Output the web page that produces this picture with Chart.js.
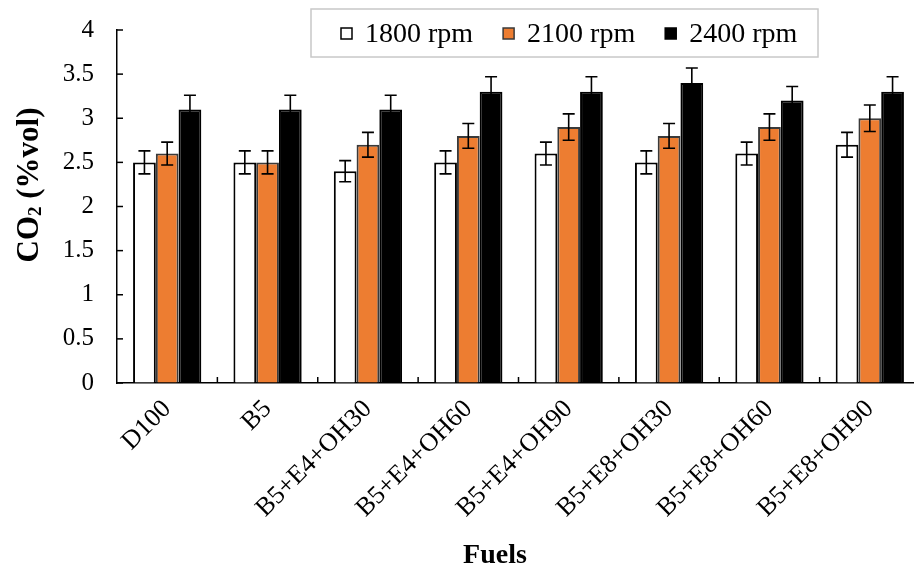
<!DOCTYPE html>
<html>
<head>
<meta charset="utf-8">
<script src="https://cdn.jsdelivr.net/npm/chart.js@4/dist/chart.umd.min.js"></script>
<style>
  html, body { margin: 0; padding: 0; background: #fff; overflow: hidden; }
  #wrap { width: 914px; height: 570px; overflow: hidden; }
</style>
</head>
<body>
<div id="wrap"><canvas id="c" width="920" height="570"></canvas></div>
<script>
const categories = ['D100', 'B5', 'B5+E4+OH30', 'B5+E4+OH60', 'B5+E4+OH90', 'B5+E8+OH30', 'B5+E8+OH60', 'B5+E8+OH90'];
const seriesLabels = ['1800 rpm', '2100 rpm', '2400 rpm'];
const rpm1800 = [2.5, 2.5, 2.4, 2.5, 2.6, 2.5, 2.6, 2.7];
const rpm2100 = [2.6, 2.5, 2.7, 2.8, 2.9, 2.8, 2.9, 3.0];
const rpm2400 = [3.1, 3.1, 3.1, 3.3, 3.3, 3.4, 3.2, 3.3];
const err1800 = [0.13, 0.13, 0.12, 0.13, 0.13, 0.13, 0.13, 0.14];
const err2100 = [0.13, 0.13, 0.14, 0.14, 0.15, 0.14, 0.15, 0.15];
const err2400 = [0.16, 0.16, 0.16, 0.17, 0.17, 0.17, 0.16, 0.17];
const yTickLabels = ['0', '0.5', '1', '1.5', '2', '2.5', '3', '3.5', '4'];
const yTitleParts = ['CO', '2', ' (%vol)'];
const xTitle = 'Fuels';

const SERIF = '"Liberation Serif", "Times New Roman", serif';
const fills = ['#ffffff', '#ED7D31', '#000000'];
const borders = ['#000000', '#3a3a3a', '#000000'];
const errs = [err1800, err2100, err2400];

const errorBars = {
  id: 'errorBars',
  afterDatasetsDraw(chart) {
    const ctx = chart.ctx;
    const y = chart.scales.y;
    ctx.save();
    ctx.strokeStyle = '#000';
    ctx.lineWidth = 1.6;
    chart.data.datasets.forEach((ds, di) => {
      const meta = chart.getDatasetMeta(di);
      meta.data.forEach((bar, i) => {
        const v = ds.data[i], e = errs[di][i];
        const yt = y.getPixelForValue(v + e), yb = y.getPixelForValue(v - e);
        const x = bar.x, cw = 6;
        ctx.beginPath();
        ctx.moveTo(x, yt); ctx.lineTo(x, yb);
        ctx.moveTo(x - cw, yt); ctx.lineTo(x + cw, yt);
        ctx.moveTo(x - cw, yb); ctx.lineTo(x + cw, yb);
        ctx.stroke();
      });
    });
    ctx.restore();
  }
};

const decorations = {
  id: 'decorations',
  afterDraw(chart) {
    const ctx = chart.ctx;
    const xs = chart.scales.x, ys = chart.scales.y;
    const area = chart.chartArea;
    ctx.save();
    ctx.strokeStyle = '#000';
    ctx.lineWidth = 1.5;
    // inner tick marks on the value axis
    ys.ticks.forEach((t, i) => {
      const py = ys.getPixelForTick(i);
      ctx.beginPath(); ctx.moveTo(area.left, py); ctx.lineTo(area.left + 6, py); ctx.stroke();
    });
    // inner tick marks between categories
    const n = categories.length;
    const w = (xs.getPixelForValue(1) - xs.getPixelForValue(0));
    for (let i = 1; i <= n; i++) {
      const px = xs.getPixelForValue(i - 1) + w / 2;
      ctx.beginPath(); ctx.moveTo(px, area.bottom); ctx.lineTo(px, area.bottom - 6); ctx.stroke();
    }
    // x axis title
    ctx.fillStyle = '#000';
    ctx.font = 'bold 28px ' + SERIF;
    ctx.textAlign = 'center';
    ctx.textBaseline = 'middle';
    ctx.fillText(xTitle, 495, 556);
    // y axis title with subscript
    ctx.save();
    ctx.translate(28, 185);
    ctx.rotate(-Math.PI / 2);
    const big = 'bold 31px ' + SERIF, small = 'bold 19px ' + SERIF;
    ctx.font = big; const w0 = ctx.measureText(yTitleParts[0]).width;
    const w2 = ctx.measureText(yTitleParts[2]).width;
    ctx.font = small; const w1 = ctx.measureText(yTitleParts[1]).width;
    let sx = -(w0 + w1 + w2) / 2;
    ctx.textAlign = 'left';
    ctx.textBaseline = 'alphabetic';
    ctx.font = big; ctx.fillText(yTitleParts[0], sx, 10); sx += w0;
    ctx.font = small; ctx.fillText(yTitleParts[1], sx, 13); sx += w1;
    ctx.font = big; ctx.fillText(yTitleParts[2], sx, 10);
    ctx.restore();
    // legend
    ctx.fillStyle = '#fff';
    ctx.fillRect(311, 9, 507, 48);
    ctx.strokeStyle = '#c8c8c8';
    ctx.lineWidth = 1.5;
    ctx.strokeRect(311, 9, 507, 48);
    ctx.font = '28px ' + SERIF;
    ctx.textAlign = 'left';
    ctx.textBaseline = 'middle';
    let x = 341;
    const cy = 34;
    chart.data.datasets.forEach((ds, di) => {
      ctx.fillStyle = fills[di];
      ctx.fillRect(x, cy - 6, 11, 11);
      ctx.strokeStyle = borders[di];
      ctx.lineWidth = 1.5;
      ctx.strokeRect(x, cy - 6, 11, 11);
      ctx.fillStyle = '#000';
      ctx.fillText(ds.label, x + 24, cy + 1);
      x += 24 + ctx.measureText(ds.label).width + 30;
    });
    ctx.restore();
  }
};

new Chart(document.getElementById('c'), {
  type: 'bar',
  data: {
    labels: categories,
    datasets: [rpm1800, rpm2100, rpm2400].map((d, i) => ({
      label: seriesLabels[i],
      data: d,
      backgroundColor: fills[i],
      borderColor: borders[i],
      borderWidth: 2,
      categoryPercentage: 0.68,
      barPercentage: 1.0
    }))
  },
  options: {
    responsive: false,
    devicePixelRatio: 1,
    animation: false,
    layout: { padding: { top: 30, left: 0, right: 0, bottom: 0 } },
    plugins: { legend: { display: false }, tooltip: { enabled: false } },
    scales: {
      x: {
        afterFit(s) { s.height = 187; },
        grid: { display: true, drawOnChartArea: false, drawTicks: false },
        border: { display: true, color: '#000', width: 1.5 },
        ticks: {
          autoSkip: false, maxRotation: 45, minRotation: 45, padding: 11,
          color: '#000', font: { family: SERIF, size: 26 }
        }
      },
      y: {
        min: 0, max: 4,
        afterFit(s) { s.width = 117; s.paddingTop = 0; s.paddingBottom = 0; },
        grid: { display: true, drawOnChartArea: false, drawTicks: false },
        border: { display: true, color: '#000', width: 1.5 },
        ticks: {
          stepSize: 0.5, padding: 23, color: '#000',
          font: { family: SERIF, size: 25 },
          callback: (v, i) => yTickLabels[i]
        },
        title: { display: false }
      }
    }
  },
  plugins: [errorBars, decorations]
});
</script>
</body>
</html>
